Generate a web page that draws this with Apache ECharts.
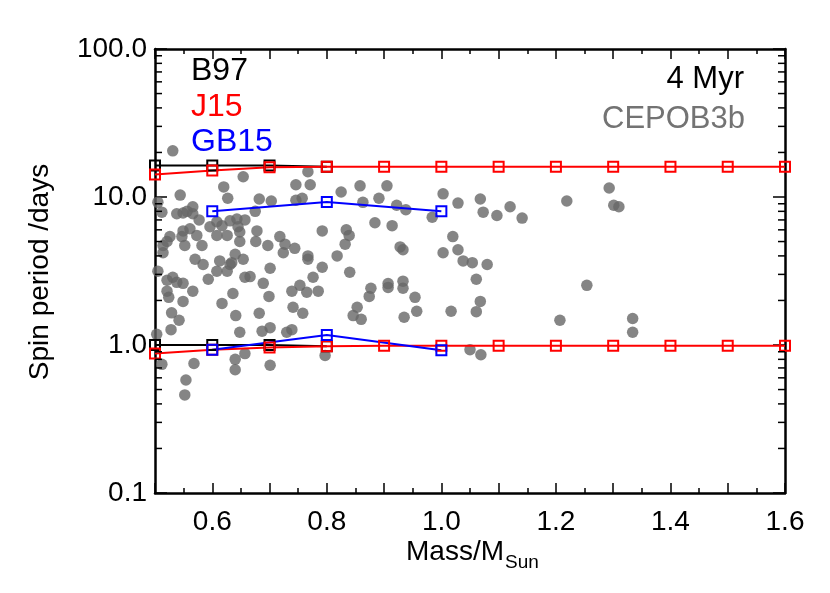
<!DOCTYPE html>
<html><head><meta charset="utf-8">
<script src="https://cdn.jsdelivr.net/npm/echarts@6/dist/echarts.min.js"></script>
<style>html,body{margin:0;padding:0;background:#fff}#c{width:830px;height:593px}</style>
</head><body><div id="c"></div>
<script>
// Observed stars (CEPOB3b, 4 Myr)
const starMass = [0.531,0.767,0.746,0.771,0.825,0.858,0.905,1.003,0.863,0.891,0.922,0.938,0.984,1.029,1.068,1.073,1.097,1.120,1.141,1.219,1.293,1.301,1.310,
0.544,0.620,0.627,0.654,0.682,0.703,0.746,0.757,0.505,0.512,0.538,0.549,0.556,0.566,0.566,0.577,0.596,0.608,0.617,0.631,0.643,0.645,0.675,0.657,
0.549,0.561,0.547,0.526,0.521,0.514,0.573,0.582,0.552,0.608,0.626,0.648,0.648,0.514,0.570,0.584,0.613,0.631,0.640,0.654,
0.678,0.676,0.697,0.718,0.727,0.744,0.724,0.767,0.792,0.818,0.792,0.701,0.834,0.839,0.832,0.884,0.914,0.928,0.933,0.840,
1.020,1.029,1.003,1.038,1.054,1.080,1.061,0.877,0.874,0.907,0.907,0.933,0.933,0.954,0.957,0.935,0.853,0.846,0.860,1.017,1.061,1.068,1.050,1.069,
1.254,1.207,1.334,1.334,0.505,0.521,0.531,0.538,0.549,0.608,0.626,0.634,0.593,0.657,0.666,0.689,0.699,0.521,0.524,0.549,0.566,0.617,0.636,0.641,
0.529,0.542,0.528,0.503,0.648,0.682,0.687,0.701,0.730,0.739,0.741,0.758,0.739,0.753,0.765,0.776,0.785,0.767,
0.512,0.568,0.640,0.640,0.657,0.701,0.797,0.554,0.552];
const starPeriod = [20.5,14.8,12.1,12.1,10.8,11.9,11.9,10.5,9.2,9.8,8.8,8.2,7.3,9.1,9.7,7.9,7.5,8.6,7.2,9.4,11.5,8.8,8.6,
10.3,11.7,9.8,13.7,9.7,9.4,9.5,9.8,9.2,7.9,7.7,7.8,8.0,8.6,7.7,7.0,6.3,6.8,6.4,6.9,7.1,6.3,8.0,7.0,
5.9,6.1,5.4,5.4,5.0,4.7,5.5,4.7,4.7,5.5,5.5,5.8,5.0,4.2,3.8,3.5,3.7,3.5,4.1,3.8,
5.9,5.0,4.7,5.4,4.8,4.5,4.2,4.0,5.9,4.0,3.35,3.3,6.0,5.5,4.8,6.7,6.4,4.6,4.4,3.1,
5.4,4.4,4.2,3.7,3.6,3.5,2.78,2.42,2.13,2.6,2.45,2.7,2.42,2.1,1.69,1.54,1.80,1.58,1.49,1.69,1.68,1.97,0.93,0.86,
2.53,1.47,1.51,1.22,3.15,2.74,2.87,2.65,2.61,3.15,3.15,3.6,2.78,2.87,2.9,2.61,2.13,2.31,2.1,1.97,2.31,1.91,2.23,1.58,
1.65,1.47,1.27,1.18,1.22,1.64,1.24,1.31,1.22,1.27,1.80,1.64,2.31,2.53,2.27,2.87,2.31,3.8,
0.74,0.75,0.80,0.68,0.875,0.73,0.85,0.58,0.46];

// Models
const modelMass = [0.5,0.6,0.7,0.8,0.9,1.0,1.1,1.2,1.3,1.4,1.5,1.6];
const j15Upper = [14.2,15.1,15.9,16.0,16.0,16.0,16.0,16.0,16.0,16.0,16.0,16.0];
const j15Lower = [0.875,0.93,0.96,0.98,0.99,0.99,0.99,0.99,0.99,0.99,0.99,0.99];
const b97Mass = [0.5,0.6,0.7,0.8];
const b97Upper = [16.3,16.3,16.3,16.0];
const b97Lower = [1.0,1.0,1.0,0.98];
const gb15Mass = [0.6,0.8,1.0];
const gb15Upper = [8.0,9.25,8.0];
const gb15Lower = [0.93,1.17,0.92];

const logMinorTicks = [0.2,0.3,0.4,0.5,0.6,0.7,0.8,0.9,2,3,4,5,6,7,8,9,20,30,40,50,60,70,80,90];
const legendLabels = ['B97','J15','GB15'];
const legendColors = ['#000000','#ff0000','#0000ff'];
const annotLabels = ['4 Myr','CEPOB3b'];

const FONT = "'Liberation Sans', Arial, Helvetica, sans-serif";
const chart = echarts.init(document.getElementById('c'), null, {renderer:'canvas'});

function xAxisCfg(pos, labels){
  return {type:'value', position:pos, min:0.5, max:1.6, interval:0.1,
    axisLine:{show:true, onZero:false, lineStyle:{color:'#000', width:2.5}},
    axisTick:{show:true, inside:true, length:10, lineStyle:{color:'#000', width:1.5}},
    minorTick:{show:true, splitNumber:2, length:5, lineStyle:{color:'#000', width:1.5}},
    splitLine:{show:false}, minorSplitLine:{show:false},
    axisLabel:{show:labels, interval:0, margin:15, color:'#000', fontSize:28, fontFamily:FONT,
      formatter:function(v){const k=Math.round(v*10); return k%2===0 ? (k/10).toFixed(1) : '';}}
  };
}
function yAxisCfg(pos, labels){
  return {type:'log', logBase:10, position:pos, min:0.1, max:100,
    axisLine:{show:true, onZero:false, lineStyle:{color:'#000', width:2.5}},
    axisTick:{show:true, inside:true, length:12, lineStyle:{color:'#000', width:1.5}},
    splitLine:{show:false},
    axisLabel:{show:labels, margin:8, color:'#000', fontSize:28, fontFamily:FONT,
      formatter:function(v){return Number(v).toFixed(1);}}
  };
}
function modelSeries(name, xs, ys, color){
  return {type:'line', name:name, data:xs.map((x,i)=>[x, ys[i]]),
    symbol:'rect', symbolSize:10, showSymbol:true,
    itemStyle:{color:'rgba(0,0,0,0)', borderColor:color, borderWidth:2},
    lineStyle:{color:color, width:2}, z:5, clip:false, silent:true,
    emphasis:{disabled:true}};
}

const option = {
  animation:false,
  backgroundColor:'#ffffff',
  grid:{left:155, right:45, top:49, bottom:100, containLabel:false},
  xAxis:[xAxisCfg('bottom', true), xAxisCfg('top', false)],
  yAxis:[yAxisCfg('left', true), yAxisCfg('right', false)],
  series:[
    {type:'scatter', data:starMass.map((m,i)=>[m, starPeriod[i]]), symbol:'circle', symbolSize:11.5,
      itemStyle:{color:'#676767'}, z:2, silent:true},
    modelSeries('B97 upper', b97Mass, b97Upper, legendColors[0]),
    modelSeries('B97 lower', b97Mass, b97Lower, legendColors[0]),
    modelSeries('J15 upper', modelMass, j15Upper, legendColors[1]),
    modelSeries('J15 lower', modelMass, j15Lower, legendColors[1]),
    modelSeries('GB15 upper', gb15Mass, gb15Upper, legendColors[2]),
    modelSeries('GB15 lower', gb15Mass, gb15Lower, legendColors[2]),
    {type:'custom', coordinateSystem:'cartesian2d', data:logMinorTicks.map(v=>[0.5, v]), z:10, silent:true, clip:false,
      renderItem:function(params, api){
        const y = api.coord([0.5, api.value(1)])[1];
        const cs = params.coordSys;
        return {type:'group', children:[
          {type:'line', shape:{x1:cs.x, y1:y, x2:cs.x+7, y2:y}, style:{stroke:'#000', lineWidth:1.5}},
          {type:'line', shape:{x1:cs.x+cs.width, y1:y, x2:cs.x+cs.width-7, y2:y}, style:{stroke:'#000', lineWidth:1.5}}
        ]};
      }}
  ],
  graphic:[
    {type:'text', x:191, y:71, style:{text:legendLabels[0], fill:legendColors[0], font:'32px '+FONT, align:'left', verticalAlign:'middle'}},
    {type:'text', x:191, y:107, style:{text:legendLabels[1], fill:legendColors[1], font:'32px '+FONT, align:'left', verticalAlign:'middle'}},
    {type:'text', x:191, y:142, style:{text:legendLabels[2], fill:legendColors[2], font:'32px '+FONT, align:'left', verticalAlign:'middle'}},
    {type:'text', x:744, y:79, style:{text:annotLabels[0], fill:'#000', font:'31px '+FONT, align:'right', verticalAlign:'middle'}},
    {type:'text', x:745, y:119, style:{text:annotLabels[1], fill:'#737373', font:'31px '+FONT, align:'right', verticalAlign:'middle'}},
    {type:'text', x:504, y:552, style:{text:'Mass/M', fill:'#000', font:'28px '+FONT, align:'right', verticalAlign:'middle'}},
    {type:'text', x:505, y:563, style:{text:'Sun', fill:'#000', font:'19px '+FONT, align:'left', verticalAlign:'middle'}},
    {type:'text', x:40, y:272, rotation:Math.PI/2, style:{text:'Spin period /days', fill:'#000', font:'28px '+FONT, align:'center', verticalAlign:'middle'}}
  ]
};
chart.setOption(option);
</script>
</body></html>
